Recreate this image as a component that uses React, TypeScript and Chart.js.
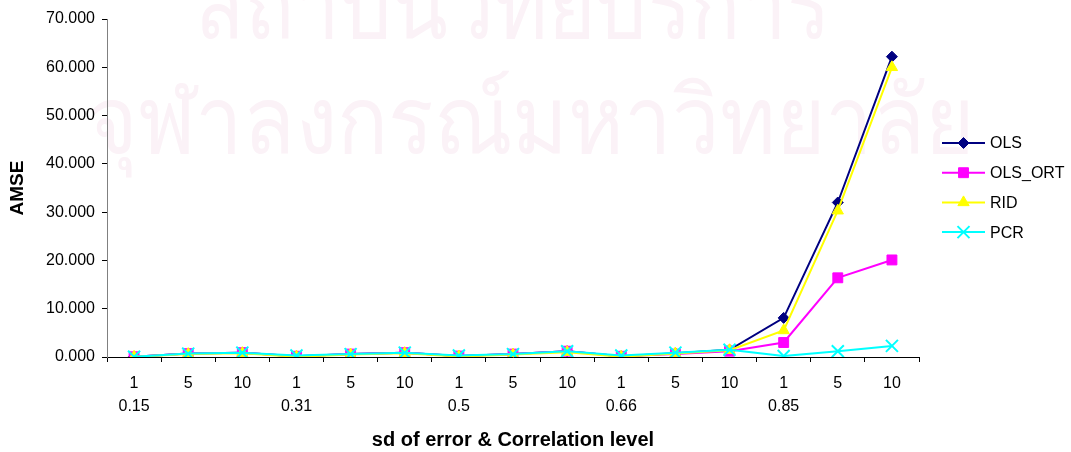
import React, { useEffect, useRef } from "react";
import { Chart, registerables } from "chart.js";
import { drawPoint } from "chart.js/helpers";

Chart.register(...registerables);

const sdLevels = ["1", "5", "10", "1", "5", "10", "1", "5", "10", "1", "5", "10", "1", "5", "10"];
const corrLevels = ["0.15", "", "", "0.31", "", "", "0.5", "", "", "0.66", "", "", "0.85", "", ""];
const seriesNames = ["OLS", "OLS_ORT", "RID", "PCR"];

const olsValues = [0.05, 0.7, 0.9, 0.15, 0.6, 0.9, 0.2, 0.6, 1.2, 0.15, 0.8, 1.5, 8.1, 32.0, 62.2];
const olsOrtValues = [0.05, 0.7, 0.9, 0.15, 0.6, 0.9, 0.2, 0.6, 1.2, 0.15, 0.6, 1.2, 3.0, 16.4, 20.1];
const ridValues = [0.03, 0.6, 0.8, 0.05, 0.5, 0.8, 0.1, 0.5, 1.0, 0.05, 0.7, 1.4, 5.5, 30.3, 60.0];
const pcrValues = [0.05, 0.7, 0.9, 0.3, 0.6, 0.9, 0.3, 0.6, 1.2, 0.3, 0.9, 1.5, 0.2, 1.2, 2.3];

const yTickMin = 0;
const yTickMax = 70;
const yTickStep = 10;

const watermarkLines = ["สถาบันวิทยบริการ", "จุฬาลงกรณ์มหาวิทยาลัย"];

const FONT = "'Liberation Sans', Arial, Helvetica, sans-serif";

const sideLegend = {
  id: "sideLegend",
  afterDraw(chart: any) {
    const ctx = chart.ctx;
    const area = chart.chartArea;
    const x0 = area.right + 23;
    const x1 = area.right + 66;
    const xm = (x0 + x1) / 2;
    chart.data.datasets.forEach((ds: any, i: number) => {
      const y = 143 + i * 29.7;
      ctx.save();
      ctx.strokeStyle = ds.borderColor;
      ctx.lineWidth = ds.borderWidth;
      ctx.beginPath();
      ctx.moveTo(x0, y);
      ctx.lineTo(x1, y);
      ctx.stroke();
      ctx.fillStyle = ds.pointBackgroundColor;
      ctx.strokeStyle = ds.pointBorderColor;
      ctx.lineWidth = ds.pointBorderWidth;
      drawPoint(ctx, { pointStyle: ds.pointStyle, radius: ds.pointRadius, borderWidth: ds.pointBorderWidth, rotation: 0 }, xm, y);
      ctx.fillStyle = "#000";
      ctx.font = `16px ${FONT}`;
      ctx.textBaseline = "middle";
      ctx.textAlign = "left";
      ctx.fillText(ds.label, x1 + 5, y + 1);
      ctx.restore();
    });
  },
};

export default function App() {
  const canvasRef = useRef<HTMLCanvasElement | null>(null);
  const wm1 = useRef<HTMLDivElement | null>(null);
  const wm2 = useRef<HTMLDivElement | null>(null);

  useEffect(() => {
    document.body.style.margin = "0";
    const fit = (el: HTMLDivElement | null, target: number) => {
      if (!el) return;
      el.style.transform = "none";
      const w = el.getBoundingClientRect().width;
      if (w > 0) el.style.transform = `scaleX(${target / w})`;
    };
    fit(wm1.current, 635);
    fit(wm2.current, 887);

    const canvas = canvasRef.current;
    if (!canvas) return;
    const labels = sdLevels.map((s, i) => [s, corrLevels[i]]);
    const mk = (label: string, data: number[], color: string, pointStyle: string, radius: number, order: number, pbw = 1) => ({
      label,
      data,
      borderColor: color,
      backgroundColor: color,
      borderWidth: 2,
      pointStyle,
      pointRadius: radius,
      pointHoverRadius: radius,
      pointBackgroundColor: color,
      pointBorderColor: color,
      pointBorderWidth: pbw,
      tension: 0,
      fill: false,
      order,
    });
    const chart = new Chart(canvas, {
      type: "line",
      data: {
        labels,
        datasets: [
          mk(seriesNames[0], olsValues, "#000080", "rectRot", 5.5, 3),
          mk(seriesNames[1], olsOrtValues, "#ff00ff", "rect", 7, 2),
          mk(seriesNames[2], ridValues, "#ffff00", "triangle", 6.5, 1),
          mk(seriesNames[3], pcrValues, "#00ffff", "crossRot", 8.5, 0, 2),
        ],
      },
      options: {
        animation: false,
        responsive: true,
        maintainAspectRatio: false,
        layout: { padding: { top: 19, right: 152, bottom: 0, left: 0 } },
        plugins: {
          legend: { display: false },
          tooltip: { enabled: false },
        },
        scales: {
          x: {
            offset: true,
            grid: {
              offset: true,
              drawOnChartArea: false,
              drawTicks: true,
              tickLength: 5,
              color: "#000",
            },
            border: { color: "#000", width: 1 },
            ticks: {
              color: "#000",
              padding: 10,
              maxRotation: 0,
              autoSkip: false,
              font: { family: FONT, size: 16, lineHeight: 1.45 },
            },
            title: {
              display: true,
              text: "sd of error & Correlation level",
              color: "#000",
              font: { family: FONT, size: 20, weight: "bold", lineHeight: 1.2 },
              padding: { top: 1, bottom: 0 },
            },
            afterFit(scale: any) {
              scale.height = 95;
            },
          },
          y: {
            min: yTickMin,
            max: yTickMax,
            ticks: {
              stepSize: yTickStep,
              color: "#000",
              padding: 7,
              font: { family: FONT, size: 16 },
              callback: (v: any) => Number(v).toFixed(3),
            },
            grid: {
              drawOnChartArea: false,
              drawTicks: true,
              tickLength: 5,
              color: "#000",
            },
            border: { color: "#808080", width: 1 },
            title: {
              display: true,
              text: "AMSE",
              color: "#000",
              font: { family: FONT, size: 19, weight: "bold", lineHeight: 1.2 },
              padding: { top: 6.6, bottom: 0 },
            },
            afterFit(scale: any) {
              scale.width = 107;
            },
          },
        },
      },
      plugins: [sideLegend],
    });
    return () => chart.destroy();
  }, []);

  const wmStyle: React.CSSProperties = {
    position: "absolute",
    display: "inline-block",
    transformOrigin: "0 0",
    whiteSpace: "nowrap",
  };

  return (
    <div style={{ position: "absolute", left: 0, top: 0, width: 1071, height: 452, background: "#fff", overflow: "hidden" }}>
      <div
        style={{
          position: "absolute",
          left: 0,
          top: 0,
          width: 1071,
          height: 452,
          color: "#fbf2f7",
          fontFamily: "'Noto Sans', 'DejaVu Sans', sans-serif",
          fontSize: 94,
          lineHeight: "100px",
          pointerEvents: "none",
        }}
      >
        <div ref={wm1} style={{ ...wmStyle, left: 195, top: -48 }}>{watermarkLines[0]}</div>
        <div ref={wm2} style={{ ...wmStyle, left: 88, top: 67 }}>{watermarkLines[1]}</div>
      </div>
      <canvas ref={canvasRef} style={{ position: "absolute", left: 0, top: 0, width: 1071, height: 452 }} />
    </div>
  );
}
